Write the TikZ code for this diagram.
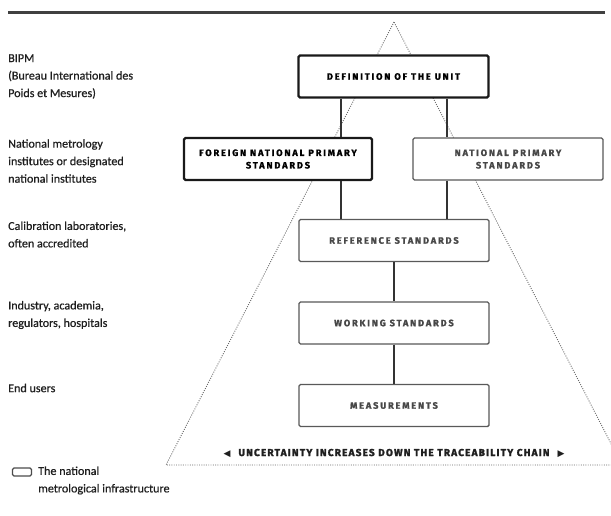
\documentclass[tikz,border=0pt]{standalone}
\usepackage{fontspec}
\setmainfont{Carlito}
\newfontfamily\lblfont[FakeBold=0.6]{Carlito}
\newfontfamily\capsfont[LetterSpace=20,FakeBold=1.4]{Fira Sans}
\newfontfamily\uncfont[LetterSpace=12,FakeBold=2.0]{Fira Sans}
\newfontfamily\symfont{DejaVu Sans}
\begin{document}
\begin{tikzpicture}[x=1pt,y=-1pt,
  lbl/.style={anchor=west, align=left, font=\lblfont\fontsize{12.1}{17.5}\selectfont, text=black!88, inner sep=0pt},
  unit/.style={draw, rounded corners=1.5pt, fill=white, minimum width=190pt, minimum height=42pt, inner sep=0pt, align=center, font=\capsfont\bfseries\fontsize{9.2}{12.5}\selectfont},
  strong/.style={unit, line width=2.2pt, draw=black!90, text=black},
  weak/.style={unit, line width=1.4pt, draw=black!65, text=black!72},
  link/.style={line width=1.8pt, draw=black!80},
  tri/.style={draw=black!60, line width=0.9pt, dash pattern=on 0.9pt off 1.4pt}]
\useasboundingbox (0,0) rectangle (611,515);
\fill[white] (0,0) rectangle (611,515);
\draw[line width=3pt, black!75] (8,12) -- (605,12);
\begin{scope}
\clip (0,0) rectangle (611,515);
\draw[tri] (394,22) -- (166,465) -- (622,465) -- cycle;
\end{scope}
% left labels
\node[lbl] (l1) at (8,76.5) {BIPM\\(Bureau International des\\Poids et Mesures)};
\node[lbl] (l2) at (8,161) {National metrology\\institutes or designated\\national institutes};
\node[lbl] (l3) at (8,234.5) {Calibration laboratories,\\often accredited};
\node[lbl] (l4) at (8,315) {Industry, academia,\\regulators, hospitals};
\node[lbl] (l5) at (8,388) {End users};
% boxes
\node[strong] (def) at (393.5,76.5) {DEFINITION OF THE UNIT};
\node[strong, minimum width=188pt] (for) at (278,159) {FOREIGN NATIONAL PRIMARY\\STANDARDS};
\node[weak] (nat) at (508,159) {NATIONAL PRIMARY\\STANDARDS};
\node[weak] (ref) at (394,240.5) {REFERENCE STANDARDS};
\node[weak] (work) at (394,323) {WORKING STANDARDS};
\node[weak] (meas) at (394,405.5) {MEASUREMENTS};
% connectors
\coordinate (c1) at (341,0);
\coordinate (c2) at (447,0);
\draw[link] (c1 |- def.south) -- (c1 |- for.north);
\draw[link] (c2 |- def.south) -- (c2 |- nat.north);
\draw[link] (c1 |- for.south) -- (c1 |- ref.north);
\draw[link] (c2 |- nat.south) -- (c2 |- ref.north);
\draw[link] (ref.south) -- (work.north);
\draw[link] (work.south) -- (meas.north);
% uncertainty
\node[font=\uncfont\bfseries\fontsize{10}{11}\selectfont, text=black!88, inner sep=0pt] (unc) at (394,453)
  {{\symfont\fontsize{9}{9}\selectfont ◀}\hspace{8pt}UNCERTAINTY INCREASES DOWN THE TRACEABILITY CHAIN\hspace{8pt}{\symfont\fontsize{9}{9}\selectfont ▶}};
% legend
\node[draw=black!70, line width=1.3pt, rounded corners=1.5pt, minimum width=19pt, minimum height=8pt, inner sep=0pt] (leg) at (22,472) {};
\node[lbl] (legt) at (38,480.5) {The national\\metrological infrastructure};
\end{tikzpicture}
\end{document}
